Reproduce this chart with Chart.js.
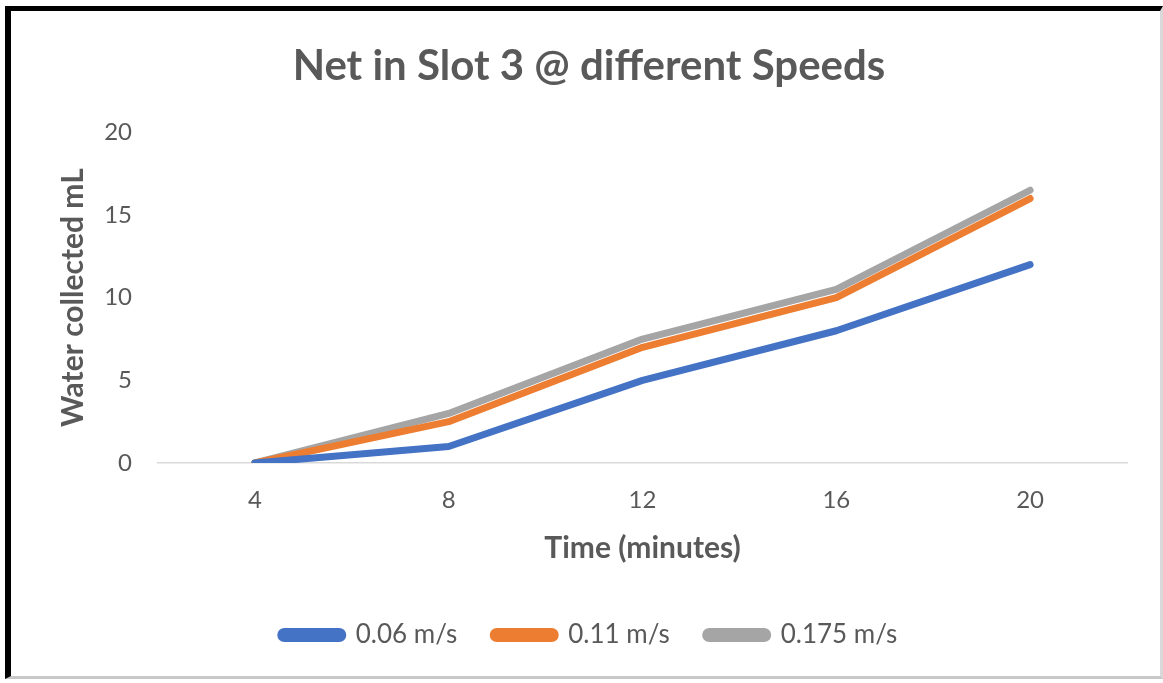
<!DOCTYPE html>
<html>
<head>
<meta charset="utf-8">
<title>Net in Slot 3 @ different Speeds</title>
<script src="https://cdn.jsdelivr.net/npm/chart.js@4.4.1/dist/chart.umd.min.js"></script>
<style>
  html, body { margin: 0; padding: 0; background: #ffffff; }
  #wrap { position: relative; width: 1163px; height: 683px; }
  #chart { position: absolute; left: 0; top: 0; }
  #frame {
    position: absolute; left: 5px; top: 6px; width: 1149px; height: 665px;
    border-left: 6px solid #000; border-top: 5px solid #000;
    border-right: 3px solid #d9d9d9; border-bottom: 3px solid #c8c8c8;
    pointer-events: none;
  }
</style>
</head>
<body>
<div id="wrap">
  <canvas id="chart" width="1163" height="683"></canvas>
  <div id="frame"></div>
</div>
<script>
// Sampling times (minutes)
const times = ['4', '8', '12', '16', '20'];

// Water collected (mL) for each towing speed
const speed006 = [0, 1, 5, 8, 12];
const speed011 = [0, 2.5, 7, 10, 16];
const speed0175 = [0, 3, 7.5, 10.5, 16.5];

const seriesNames = ['0.06 m/s', '0.11 m/s', '0.175 m/s'];
const seriesColors = ['#4472C4', '#ED7D31', '#A5A5A5'];

const FONT = 'Lato, "Open Sans", sans-serif';
const TEXT = '#595959';

function lineSet(label, data, color) {
  return {
    label: label,
    data: data,
    borderColor: color,
    backgroundColor: color,
    borderWidth: 7,
    borderCapStyle: 'round',
    borderJoinStyle: 'round',
    pointRadius: 0,
    pointHoverRadius: 0,
    tension: 0,
    fill: false
  };
}

new Chart(document.getElementById('chart'), {
  type: 'line',
  data: {
    labels: times,
    datasets: [
      lineSet(seriesNames[0], speed006, seriesColors[0]),
      lineSet(seriesNames[1], speed011, seriesColors[1]),
      lineSet(seriesNames[2], speed0175, seriesColors[2])
    ]
  },
  options: {
    responsive: false,
    animation: false,
    layout: { padding: { left: 51, right: 36, top: 37, bottom: 25 } },
    plugins: {
      title: {
        display: true,
        text: 'Net in Slot 3 @ different Speeds',
        color: TEXT,
        font: { family: FONT, size: 42, weight: 'bold' },
        padding: { top: 4, bottom: 41 }
      },
      legend: {
        position: 'bottom',
        labels: {
          color: TEXT,
          font: { family: FONT, size: 26 },
          boxWidth: 62,
          boxHeight: 7,
          useBorderRadius: true,
          borderRadius: 3.5,
          padding: 36
        }
      },
      tooltip: { enabled: false }
    },
    scales: {
      x: {
        offset: true,
        grid: { display: false, drawTicks: false },
        border: { display: true, color: '#d9d9d9', width: 1.5 },
        ticks: { color: TEXT, font: { family: FONT, size: 24 }, padding: 23 },
        title: {
          display: true,
          text: 'Time (minutes)',
          color: TEXT,
          font: { family: FONT, size: 30, weight: 'bold' },
          padding: { top: 20, bottom: 20 }
        },
        afterFit: (scale) => { scale.height = 123; }
      },
      y: {
        min: 0,
        max: 20,
        ticks: { stepSize: 5, color: TEXT, font: { family: FONT, size: 24 }, padding: 26 },
        grid: { display: false, drawTicks: false },
        border: { display: false },
        title: {
          display: true,
          text: 'Water collected mL',
          color: TEXT,
          font: { family: FONT, size: 30, weight: 'bold' },
          padding: { top: 4, bottom: 4 }
        },
        afterFit: (scale) => { scale.width = 158 - 51; }
      }
    }
  }
});
</script>
</body>
</html>
